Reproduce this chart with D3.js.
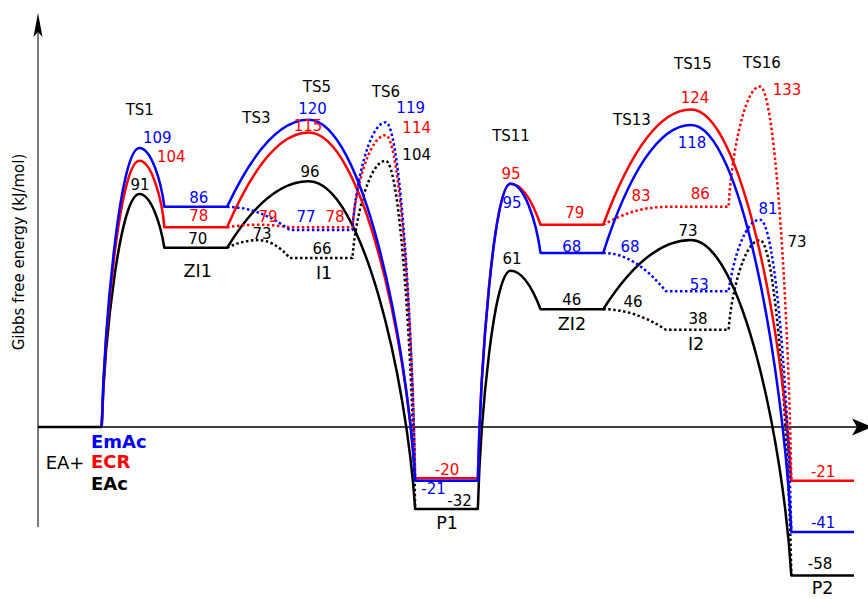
<!DOCTYPE html>
<html><head><meta charset="utf-8">
<script src="https://cdn.jsdelivr.net/npm/d3@7"></script>
<style>
body{margin:0;background:#fff}
svg{display:block}
text{font-family:"DejaVu Sans",sans-serif}
</style>
</head><body>
<svg id="chart" width="868" height="599"></svg>
<script>
// ---------------- DATA ----------------
const seriesNames = ["EmAc", "ECR", "EAc"];
const stages = ["R","TS1","ZI1","TS3","I1","TS5","TS6","P1","TS11","ZI2","TS13","I2","TS15","TS16","P2"];
const minimaStages = ["R","ZI1","I1","P1","ZI2","I2","P2"];
const stageNames = ["", "TS1", "ZI1", "TS3", "I1", "TS5", "TS6", "P1", "TS11", "ZI2", "TS13", "I2", "TS15", "TS16", "P2"];
// reaction coordinate: plateau start for minima, peak position for transition states
const stageCoord = [0, 1.6, 2, 3.5, 4, 4.3, 5.53, 6, 7.52, 8, 9.5, 10, 10.4, 11.5, 12];
// Gibbs free energies (kJ/mol), aligned with `stages`
const energyEmAc = [0, 109, 86, null, 77, 120, 119, -21, 95, 68, 68, 53, 118, 81, -41];
const energyECR  = [0, 104, 78, 79,   78, 115, 114, -20, 95, 79, 83, 86, 124, 133, -21];
const energyEAc  = [0,  91, 70, 73,   66,  96, 104, -32, 61, 46, 46, 38,  73,  73, -58];
const solidRoute = ["R","TS1","ZI1","TS5","P1","TS11","ZI2","TS15","P2"];
const dottedRoutes = [["ZI1","TS3","I1","TS6","P1"], ["ZI2","TS13","I2","TS16","P2"]];
const yAxisTitle = "Gibbs free energy (kJ/mol)";
const reactantLabel = "EA+";

// ---------------- LAYOUT / STYLE ----------------
const colors = {EmAc: "#0000ff", ECR: "#ff0000", EAc: "#000000"};
const energies = {EmAc: energyEmAc, ECR: energyECR, EAc: energyEAc};
const plateauLen = 1;
// value-label offsets [dx, dy] relative to node
const valueLabelOffsets = {
  EmAc: {TS1:[18,-4.5], ZI1:[3,-4], I1:[-15,-8], TS5:[4,-6], TS6:[25,-9.5], P1:[-13,13.5],
         TS11:[1.5,24.5], ZI2:[0,-1], TS13:[-4.6,-0.5], I2:[2,-1.5], TS15:[1,23.5], TS16:[8,-5.5], P2:[0.5,-4]},
  ECR:  {TS1:[32,1.5], ZI1:[3,-6.5], TS3:[9.6,-3], I1:[14,-5], TS5:[-0.6,-1.5], TS6:[31,-2.5], P1:[0.5,-3],
         TS11:[0.5,-4.5], ZI2:[3,-7], TS13:[6.4,-13.5], I2:[3,-7.5], TS15:[4,-6.5], TS16:[27,8.5], P2:[0.5,-4]},
  EAc:  {TS1:[0.7,-4.5], ZI1:[2,-4], TS3:[3.6,-1], I1:[1,-4.5], TS5:[1.4,-4.5], TS6:[31,-0.5], P1:[13,-3],
         TS11:[1.6,-6.5], ZI2:[0,-4.5], TS13:[-1.6,-2.5], I2:[0.8,-5.5], TS15:[-3,-4.5], TS16:[37,6.5], P2:[-2.6,-6.5]}
};
// stage-name offsets: TS relative to highest TS node; minima relative to lowest node
const nameOffsets = {TS1:[0.5,-32.5], TS3:[-2,-101.3], TS5:[8.4,-28.3], TS6:[0.3,-24.9], TS11:[0.6,-43.3],
  TS13:[-2.6,-90], TS15:[2,-40.1], TS16:[2,-19], ZI1:[2,29], I1:[3,20.7], P1:[0.5,20], ZI2:[0,20.7], I2:[-1.2,20], P2:[0,19]};

const svg = d3.select("#chart");
const x = d3.scaleLinear().domain([0, 13]).range([39, 854]);
const y = d3.scaleLinear().domain([0, 100]).range([427, 171]);

const idx = s => stages.indexOf(s);
const isMin = s => minimaStages.includes(s);
const E = (ser, s) => energies[ser][idx(s)];

// ---------------- AXES ----------------
const axisX = x(0) - 1;
svg.append("line").attr("x1", axisX).attr("x2", axisX).attr("y1", 527).attr("y2", 30)
  .attr("stroke", "#333").attr("stroke-width", 1.3);
svg.append("path").attr("d", `M${axisX},13 L${axisX+4.5},37 L${axisX},32 L${axisX-4.5},37 Z`).attr("fill", "#000");
svg.append("line").attr("x1", axisX).attr("x2", 858).attr("y1", y(0)).attr("y2", y(0))
  .attr("stroke", "#000").attr("stroke-width", 1.5);
svg.append("path").attr("d", `M872,${y(0)} L852,${y(0)-8.5} L857,${y(0)} L852,${y(0)+8.5} Z`).attr("fill", "#000");

svg.append("text").attr("transform", `translate(24,252) rotate(-90)`).attr("text-anchor", "middle")
  .attr("font-size", 15).attr("fill", "#000").text(yAxisTitle);

// ---------------- CURVES ----------------
function halfCtrl(P, Q) { // P peak (horizontal tangent), Q end
  const dx = Q[0] - P[0], dy = Q[1] - P[1];
  const aspect = Math.abs(dy) / Math.max(1e-6, Math.abs(dx));
  const s = Math.max(0, Math.min(1, (aspect - 1.2) / 1.5));
  const a = 0.34 + 0.16 * s, b = 0.66 - 0.26 * s, c = 0.33 - 0.25 * s;
  return [[P[0] + a * dx, P[1]], [Q[0] - c * dx, Q[1] - b * dy]];
}
function seg(A, B, peakAtStart) { // cubic command from A to B
  if (peakAtStart) { const [c1, c2] = halfCtrl(A, B); return `C${c1} ${c2} ${B}`; }
  const [c1, c2] = halfCtrl(B, A); return `C${c2} ${c1} ${B}`;
}
function transition(ser, mA, ts, mB) {
  const eA = E(ser, mA), eB = E(ser, mB), eT = E(ser, ts);
  const A = [x(stageCoord[idx(mA)] + plateauLen), y(eA)];
  const B = [x(stageCoord[idx(mB)]), y(eB)];
  if (eT != null && eT > Math.max(eA, eB)) {
    const P = [x(stageCoord[idx(ts)]), y(eT)];
    return seg(A, P, false) + seg(P, B, true);
  }
  return seg(A, B, eA >= eB);
}
function routePath(ser, route, drawFirst, drawLast) {
  const m0 = route[0];
  const x0 = stageCoord[idx(m0)];
  let d = drawFirst ? `M${x(x0)},${y(E(ser, m0))}L${x(x0 + plateauLen)},${y(E(ser, m0))}`
                    : `M${x(x0 + plateauLen)},${y(E(ser, m0))}`;
  for (let i = 1; i < route.length; i += 2) {
    const ts = route[i], mB = route[i + 1];
    d += transition(ser, route[i - 1], ts, mB);
    const last = i + 1 === route.length - 1;
    if (!last || drawLast) {
      const xb = stageCoord[idx(mB)];
      d += `L${x(xb + plateauLen)},${y(E(ser, mB))}`;
    }
  }
  return d;
}

const drawOrder = ["EAc", "ECR", "EmAc"];
const gLines = svg.append("g").attr("fill", "none").attr("stroke-width", 2.5).attr("stroke-linejoin", "round");
drawOrder.forEach(ser => {
  gLines.append("path").attr("d", routePath(ser, solidRoute, false, true)).attr("stroke", colors[ser]);
  dottedRoutes.forEach(r => {
    gLines.append("path").attr("d", routePath(ser, r, false, false))
      .attr("stroke", colors[ser]).attr("stroke-dasharray", "2.5 2.5");
  });
});
// common reactant level
svg.append("line").attr("x1", axisX).attr("x2", x(stageCoord[0] + plateauLen))
  .attr("y1", y(0)).attr("y2", y(0)).attr("stroke", "#000").attr("stroke-width", 2.5);

// ---------------- LABELS ----------------
const gLab = svg.append("g").attr("text-anchor", "middle").attr("font-size", 15);
function anchor(s, v) {
  const c = stageCoord[idx(s)];
  return [isMin(s) ? x(c + plateauLen / 2) : x(c), y(v)];
}
seriesNames.forEach(ser => {
  stages.forEach(s => {
    const off = valueLabelOffsets[ser][s];
    const v = E(ser, s);
    if (!off || v == null) return;
    const [ax, ay] = anchor(s, v);
    gLab.append("text").attr("x", ax + off[0]).attr("y", ay + off[1]).attr("fill", colors[ser]).text(v);
  });
});
// stage names
stages.forEach((s, i) => {
  const off = nameOffsets[s];
  if (!off) return;
  const vals = seriesNames.map(ser => E(ser, s)).filter(v => v != null);
  const v = isMin(s) ? d3.min(vals) : d3.max(vals);
  const [ax, ay] = anchor(s, v);
  gLab.append("text").attr("x", ax + off[0]).attr("y", ay + off[1])
    .attr("font-size", isMin(s) ? 17.5 : 15).attr("fill", "#000").text(stageNames[i]);
});
// reactant label & legend
svg.append("text").attr("x", x(0) + 6.7).attr("y", y(0) + 42).attr("font-size", 18).attr("fill", "#000").text(reactantLabel);
seriesNames.forEach((ser, i) => {
  svg.append("text").attr("x", x(0) + 52).attr("y", y(0) + [21, 41, 63][i])
    .attr("font-size", 18).attr("font-weight", "bold").attr("fill", colors[ser]).text(ser);
});
</script>
</body></html>
